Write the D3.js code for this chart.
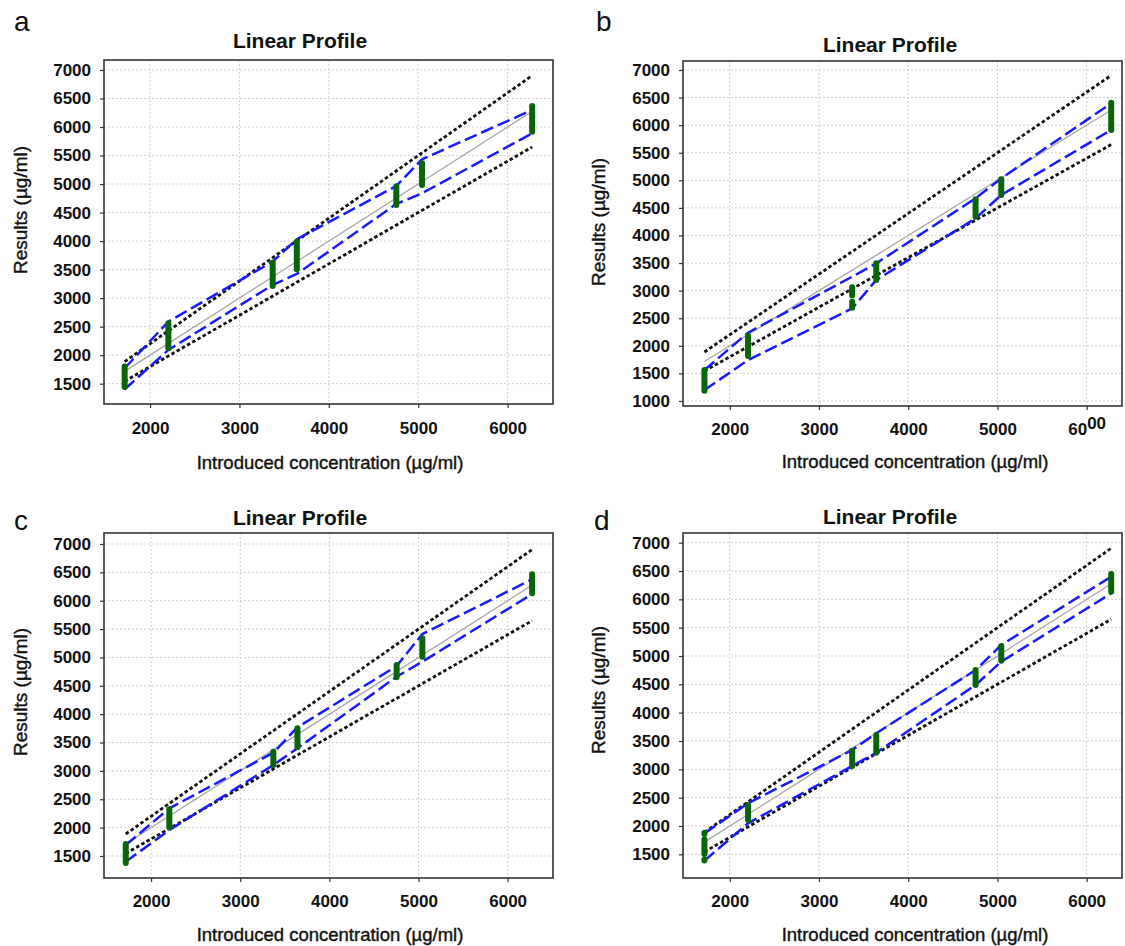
<!DOCTYPE html>
<html><head><meta charset="utf-8">
<script src="https://cdn.jsdelivr.net/npm/d3@7"></script>
<style>
html,body{margin:0;padding:0;background:#fff;}
svg text{font-family:"Liberation Sans",Arial,sans-serif;}
</style></head>
<body>
<svg id="chart" width="1125" height="946"></svg>
<script>
// ---- data ----
const levels = [1716, 2205, 3372, 3642, 4755, 5043, 6275];
const xTicks = [2000, 3000, 4000, 5000, 6000];
const yTicksACD = [1500, 2000, 2500, 3000, 3500, 4000, 4500, 5000, 5500, 6000, 6500, 7000];
const yTicksB = [1000, 1500, 2000, 2500, 3000, 3500, 4000, 4500, 5000, 5500, 6000, 6500, 7000];
const refX = [1716, 6275];
const refY = [1716, 6275];
const accUpper = [1888, 6902];
const accLower = [1544, 5648];

const aUpper = [1771, 2588, 3640, 4032, 4967, 5434, 6299];
const aLower = [1402, 2092, 3231, 3424, 4651, 4838, 5890];
const aGreen = [[[1440,1800]],[[2120,2560]],[[3213,3622]],[[3506,3990]],[[4633,4962]],[[4984,5364]],[[5919,6369]]];

const bUpper = [1561, 2238, 3253, 3495, 4674, 5036, 6396];
const bLower = [1198, 1742, 2679, 3193, 4311, 4734, 5912];
const bGreen = [[[1186,1561]],[[1815,2177]],[[2690,2800],[2910,3060]],[[3193,3495]],[[4341,4655]],[[4734,5018]],[[5912,6408]]];

const cUpper = [1693, 2340, 3321, 3768, 4849, 5413, 6377];
const cLower = [1399, 1958, 3104, 3398, 4661, 4925, 6118];
const cGreen = [[[1375,1711]],[[2005,2322]],[[3104,3339]],[[3415,3750]],[[4649,4867]],[[5014,5337]],[[6130,6465]]];

const dUpper = [1870, 2400, 3341, 3636, 4753, 5194, 6400];
const dLower = [1388, 2047, 3059, 3293, 4488, 4900, 6107];
const dGreen = [[[1860,1880],[1506,1765],[1390,1410]],[[2106,2370]],[[3059,3329]],[[3293,3606]],[[4488,4753]],[[4917,5177]],[[6135,6448]]];

const title = "Linear Profile";
const xLabel = "Introduced concentration (µg/ml)";
const yLabel = "Results (µg/ml)";

// ---- layout ----
const panels = [
  {letter:"a", upper:aUpper, lower:aLower, green:aGreen, yTicks:yTicksACD,
   box:{l:104,r:553,t:60,b:404}, xd:[1485,6508], yd:[1144,7175],
   letterPos:[14,31], titlePos:[300,48], ylPos:[27,210], xlPos:[330,469], xtY:430},
  {letter:"b", upper:bUpper, lower:bLower, green:bGreen, yTicks:yTicksB,
   box:{l:683,r:1122,t:61,b:406}, xd:[1476,6396], yd:[909,7163],
   letterPos:[596,31], titlePos:[890,52], ylPos:[605,222], xlPos:[915,468], xtY:431},
  {letter:"c", upper:cUpper, lower:cLower, green:cGreen, yTicks:yTicksACD,
   box:{l:104,r:553,t:533,b:878}, xd:[1472,6509], yd:[1112,7194],
   letterPos:[14,530], titlePos:[300,525], ylPos:[27,692], xlPos:[330,941], xtY:903},
  {letter:"d", upper:dUpper, lower:dLower, green:dGreen, yTicks:yTicksACD,
   box:{l:683,r:1122,t:533,b:878}, xd:[1476,6396], yd:[1082,7171],
   letterPos:[594,530], titlePos:[890,524], ylPos:[605,690], xlPos:[915,941], xtY:903}
];

const svg = d3.select("#chart");

panels.forEach(p => {
  const B = p.box;
  const x = d3.scaleLinear().domain(p.xd).range([B.l, B.r]);
  const y = d3.scaleLinear().domain(p.yd).range([B.b, B.t]);
  const g = svg.append("g");

  // grid
  g.selectAll(".gx").data(xTicks).join("line")
    .attr("x1", d => x(d)).attr("x2", d => x(d)).attr("y1", B.t).attr("y2", B.b)
    .attr("stroke", "#cfcfcf").attr("stroke-width", 1).attr("stroke-dasharray", "2,2");
  g.selectAll(".gy").data(p.yTicks).join("line")
    .attr("x1", B.l).attr("x2", B.r).attr("y1", d => y(d)).attr("y2", d => y(d))
    .attr("stroke", "#cfcfcf").attr("stroke-width", 1).attr("stroke-dasharray", "2,2");

  // axes
  const xAxis = d3.axisBottom(x).tickValues(xTicks).tickSize(4).tickFormat(d3.format("d"));
  const yAxis = d3.axisLeft(y).tickValues(p.yTicks).tickSize(4).tickFormat(d3.format("d"));
  const gx = g.append("g").attr("transform", `translate(0,${B.b})`).call(xAxis);
  const gy = g.append("g").attr("transform", `translate(${B.l},0)`).call(yAxis);
  [gx, gy].forEach(a => {
    a.select(".domain").remove();
    a.selectAll(".tick line").attr("stroke", "#333").attr("stroke-width", 1.2);
    a.selectAll("text").attr("font-family", "Liberation Sans, Arial, sans-serif")
      .attr("font-weight", "bold").attr("font-size", 17).attr("fill", "#111");
  });
  gx.selectAll(".tick line").attr("y2", 4);
  gx.selectAll("text").attr("dy", null).attr("y", p.xtY - B.b).attr("dominant-baseline", "middle");
  gy.selectAll("text").attr("x", -13);
  if (p.letter === "b") {
    // reference image shows the 6000 label with a raised "00"
    gx.selectAll(".tick text").filter(d => d === 6000).each(function(d) {
      const t = d3.select(this); const s = String(d);
      t.text(null);
      t.append("tspan").text(s.slice(0, 2));
      t.append("tspan").attr("dy", -6).text(s.slice(2));
    });
  }

  // frame
  g.append("rect").attr("x", B.l).attr("y", B.t).attr("width", B.r - B.l).attr("height", B.b - B.t)
    .attr("fill", "none").attr("stroke", "#333").attr("stroke-width", 1.6);

  const line = d3.line().x(d => x(d[0])).y(d => y(d[1]));
  // identity line
  g.append("path").datum(d3.zip(refX, refY)).attr("d", line)
    .attr("fill", "none").attr("stroke", "#a8a8a8").attr("stroke-width", 1.3);
  // acceptance limits
  [accUpper, accLower].forEach(arr => {
    g.append("path").datum(d3.zip(refX, arr)).attr("d", line)
      .attr("fill", "none").attr("stroke", "#111").attr("stroke-width", 2.8)
      .attr("stroke-dasharray", "3.5,2.5");
  });
  // tolerance limits
  [p.upper, p.lower].forEach(arr => {
    g.append("path").datum(d3.zip(levels, arr)).attr("d", line)
      .attr("fill", "none").attr("stroke", "#1a1aff").attr("stroke-width", 2.5)
      .attr("stroke-dasharray", "13,5");
  });
  // results
  p.green.forEach((segs, i) => {
    segs.forEach(s => {
      g.append("line").attr("x1", x(levels[i])).attr("x2", x(levels[i]))
        .attr("y1", y(s[0])).attr("y2", y(s[1]))
        .attr("stroke", "#0a650a").attr("stroke-width", 6).attr("stroke-linecap", "round");
    });
  });

  // texts
  g.append("text").attr("x", p.letterPos[0]).attr("y", p.letterPos[1]).text(p.letter)
    .attr("font-size", 28).attr("fill", "#111");
  g.append("text").attr("x", p.titlePos[0]).attr("y", p.titlePos[1]).text(title)
    .attr("text-anchor", "middle").attr("font-family", "DejaVu Sans, sans-serif")
    .attr("font-weight", "bold").attr("font-size", 21).attr("fill", "#111");
  g.append("text").attr("transform", `translate(${p.ylPos[0]},${p.ylPos[1]}) rotate(-90)`)
    .text(yLabel).attr("text-anchor", "middle").attr("font-size", 19).attr("fill", "#111")
    .attr("stroke", "#111").attr("stroke-width", 0.4);
  g.append("text").attr("x", p.xlPos[0]).attr("y", p.xlPos[1]).text(xLabel)
    .attr("text-anchor", "middle").attr("font-size", 18.5).attr("fill", "#111")
    .attr("stroke", "#111").attr("stroke-width", 0.4);
});
</script>
</body></html>
